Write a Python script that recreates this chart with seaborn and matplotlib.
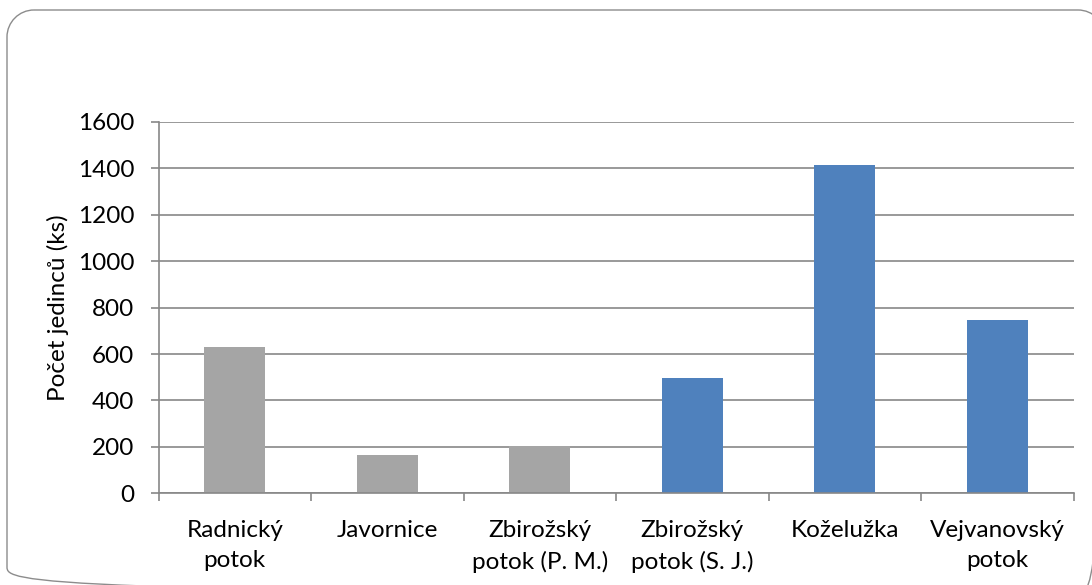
import numpy as np
import matplotlib
matplotlib.use("Agg")
import matplotlib.pyplot as plt
from matplotlib.patches import PathPatch
from matplotlib.path import Path
import seaborn as sns

categories = ["Radnický\npotok", "Javornice", "Zbirožský\npotok (P. M.)",
              "Zbirožský\npotok (S. J.)", "Koželužka", "Vejvanovský\npotok"]
values = [631, 167, 205, 499, 1414, 746]
groups = ["gray", "gray", "gray", "blue", "blue", "blue"]
group_colors = {"gray": "#A5A5A5", "blue": "#4F81BD"}
y_ticks = [0, 200, 400, 600, 800, 1000, 1200, 1400, 1600]
y_label = "Počet jedinců (ks)"

sns.set_theme(style="white")
plt.rcParams['font.family'] = ['Lato', 'DejaVu Sans']

FS = 17.5
W, H = 1092, 585
fig = plt.figure(figsize=(W / 100, H / 100), dpi=100)
ax = fig.add_axes([158.5/W, 1-493.3/H, (1073.5-158.5)/W, (493.3-122)/H])

sns.barplot(x=categories, y=values, hue=groups, palette=group_colors,
            width=0.4, dodge=False, legend=False, ax=ax, saturation=1,
            linewidth=0)

grid_c = "#878787"
ax.set_ylim(0, 1600)
ax.set_xlim(-0.5, 5.5)
ax.set_yticks(y_ticks)
ax.set_yticklabels([str(t) for t in y_ticks])
ax.yaxis.grid(True, color=grid_c, linewidth=1.2)
ax.set_axisbelow(True)
for s in ["top", "right"]:
    ax.spines[s].set_visible(False)
for s in ["left", "bottom"]:
    ax.spines[s].set_color(grid_c)
    ax.spines[s].set_linewidth(1.2)

ax.set_xticks(np.arange(-0.5, 6, 1), minor=True)
ax.tick_params(axis="x", which="major", length=0, pad=19, labelsize=FS,
               colors="black")
ax.tick_params(axis="x", which="minor", length=5.5, width=1.2, color=grid_c,
               direction="out", bottom=True)
ax.tick_params(axis="y", which="major", length=5.5, width=1.2, color=grid_c,
               direction="out", left=True, pad=12, labelsize=FS,
               labelcolor="black")
for lbl in ax.get_xticklabels():
    lbl.set_linespacing(1.55)
    lbl.set_verticalalignment("top")

ax.set_xlabel("")
ax.set_ylabel(y_label, fontsize=FS, color="black", labelpad=6)

# rounded chart-area border (figure fraction coords), extending off the right/bottom
x0, x1 = 7 / W, 1105 / W
y1, y0 = 1 - 10 / H, 1 - 594 / H
rx, ry = 27 / W, 27 / H
k = 0.5523
verts = [
    (x0 + rx, y1), (x1 - rx, y1),
    (x1 - rx + k * rx, y1), (x1, y1 - ry + k * ry), (x1, y1 - ry),
    (x1, y0 + ry),
    (x1, y0 + ry - k * ry), (x1 - rx + k * rx, y0), (x1 - rx, y0),
    (x0 + rx, y0),
    (x0 + rx - k * rx, y0), (x0, y0 + ry - k * ry), (x0, y0 + ry),
    (x0, y1 - ry),
    (x0, y1 - ry + k * ry), (x0 + rx - k * rx, y1), (x0 + rx, y1),
]
codes = [Path.MOVETO, Path.LINETO,
         Path.CURVE4, Path.CURVE4, Path.CURVE4,
         Path.LINETO,
         Path.CURVE4, Path.CURVE4, Path.CURVE4,
         Path.LINETO,
         Path.CURVE4, Path.CURVE4, Path.CURVE4,
         Path.LINETO,
         Path.CURVE4, Path.CURVE4, Path.CURVE4]
border = PathPatch(Path(verts, codes), transform=fig.transFigure,
                   facecolor="none", edgecolor="#8C8C8C", linewidth=1.0,
                   clip_on=False)
fig.patches.append(border)

fig.savefig("out.png", dpi=100, facecolor="white")
